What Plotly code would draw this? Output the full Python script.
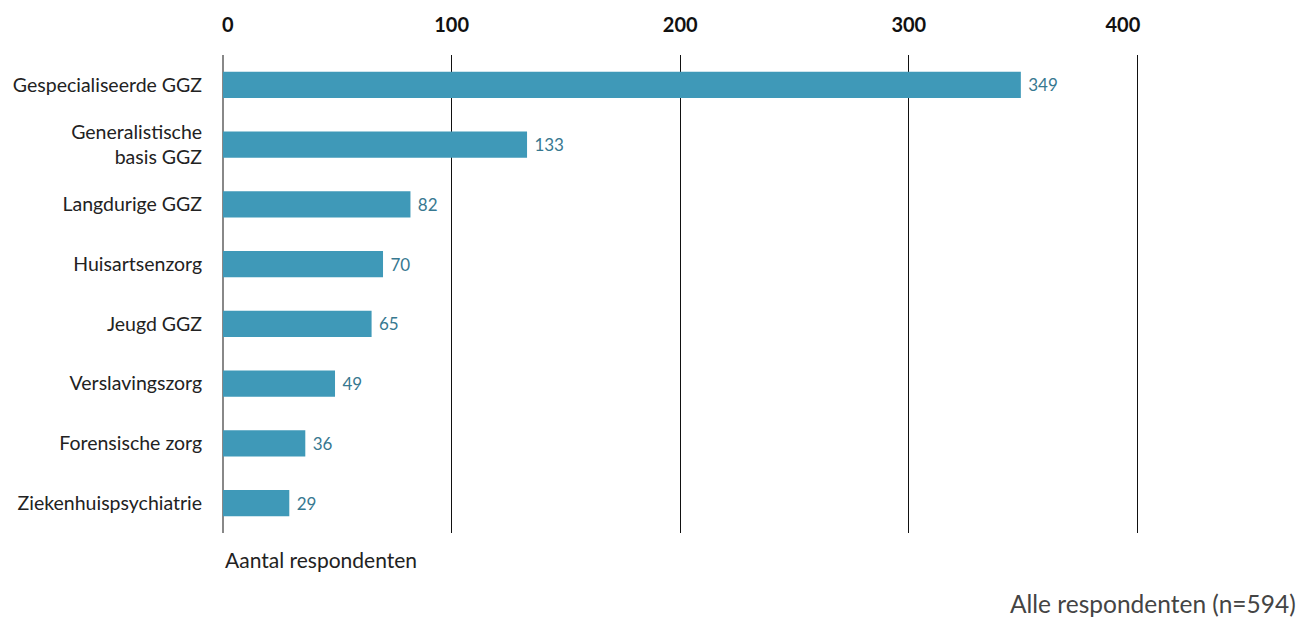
import plotly.graph_objects as go

categories = ["Gespecialiseerde GGZ", "Generalistische<br>basis GGZ", "Langdurige GGZ",
              "Huisartsenzorg", "Jeugd GGZ", "Verslavingszorg", "Forensische zorg",
              "Ziekenhuispsychiatrie"]
values = [349, 133, 82, 70, 65, 49, 36, 29]
tick_vals = [0, 100, 200, 300, 400]
tick_text = ["0", "100", "200", "300", "400"]

FONT = "Source Sans Pro, Lato, Noto Sans, sans-serif"
NB = "\u00a0"
# first label aligned to the left edge, last label to the right edge (as in the reference)
shown_ticks = [NB * 2 + tick_text[0]] + tick_text[1:-1] + [tick_text[-1] + NB * 6]

fig = go.Figure(go.Bar(
    y=categories, x=values, orientation="h",
    marker=dict(color="#3f99b8", line=dict(width=0)),
    texttemplate=" %{x}", textposition="outside", cliponaxis=False,
    textfont=dict(color="#377890", size=17, family=FONT),
    width=0.44, hoverinfo="skip",
))

fig.update_layout(
    width=1316, height=617,
    margin=dict(l=223, r=174, t=55, b=84),
    paper_bgcolor="white", plot_bgcolor="white",
    showlegend=False,
    font=dict(family=FONT, size=19, color="#222"),
    xaxis=dict(side="top", range=[0, 402], tickvals=tick_vals, ticktext=shown_ticks,
               tickfont=dict(size=20, color="#111", family=FONT, weight="bold"),
               showgrid=True, gridcolor="#111", gridwidth=1,
               zeroline=True, zerolinecolor="#888", zerolinewidth=2,
               ticks="outside", ticklen=14, tickcolor="rgba(0,0,0,0)",
               showline=False, fixedrange=True),
    yaxis=dict(autorange="reversed", showgrid=False, zeroline=False,
               ticks="outside", ticklen=16, tickcolor="rgba(0,0,0,0)",
               tickfont=dict(size=19.5, color="#222", family=FONT), fixedrange=True),
    annotations=[
        dict(text="Aantal respondenten", xref="x", yref="paper", x=0, y=-0.025,
             xanchor="left", yanchor="top", showarrow=False,
             font=dict(size=21, color="#222", family=FONT)),
        dict(text="Alle respondenten (n=594)", xref="paper", yref="paper", x=1.17, y=-0.112,
             xanchor="right", yanchor="top", showarrow=False,
             font=dict(size=24.5, color="#444", family=FONT)),
    ],
)

fig.write_html("out.html", config={"displayModeBar": False},
               post_script="document.body.style.margin='0';")
